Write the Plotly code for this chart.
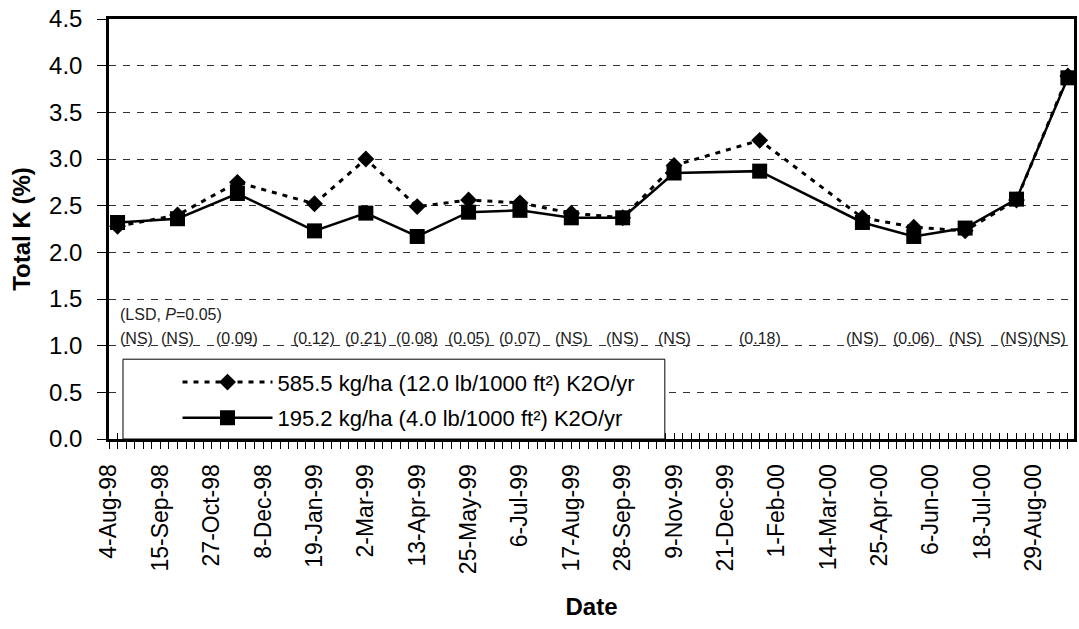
import plotly.graph_objects as go

# Sampling dates and total K (%) in clippings for the two K2O rates
dates = ["1998-08-11", "1998-09-29", "1998-11-17", "1999-01-19", "1999-03-02",
         "1999-04-13", "1999-05-25", "1999-07-06", "1999-08-17", "1999-09-28",
         "1999-11-09", "2000-01-18", "2000-04-11", "2000-05-23", "2000-07-04",
         "2000-08-15", "2000-09-26"]
k_high = [2.28, 2.40, 2.75, 2.52, 3.00, 2.49, 2.56, 2.53, 2.42, 2.37,
          2.93, 3.20, 2.37, 2.27, 2.23, 2.56, 3.89]
k_low = [2.32, 2.36, 2.63, 2.23, 2.42, 2.17, 2.43, 2.45, 2.37, 2.37,
         2.85, 2.87, 2.32, 2.17, 2.26, 2.57, 3.87]
lsd = ["(NS)", "(NS)", "(0.09)", "(0.12)", "(0.21)", "(0.08)", "(0.05)", "(0.07)",
       "(NS)", "(NS)", "(NS)", "(0.18)", "(NS)", "(0.06)", "(NS)", "(NS)", "(NS)"]
name_high = "585.5 kg/ha (12.0 lb/1000 ft²) K2O/yr"
name_low = "195.2 kg/ha (4.0 lb/1000 ft²) K2O/yr"

DAY = 86400000
FONT = "Arial, Liberation Sans, sans-serif"

fig = go.Figure()
fig.add_trace(go.Scatter(
    x=dates, y=k_high, name=name_high, mode="lines+markers", legendgroup="a",
    line=dict(color="black", width=3, dash="5px,6px"),
    marker=dict(symbol="diamond", size=13, color="black"),
))
fig.add_trace(go.Scatter(
    x=dates, y=k_low, name=name_low, mode="lines+markers", legendgroup="b",
    line=dict(color="black", width=2.5),
    marker=dict(symbol="square", size=15, color="black"),
))
# invisible trace on a twin axis that carries the inward half of the cross ticks
fig.add_trace(go.Scatter(x=[dates[0]], y=[None], xaxis="x2", showlegend=False,
                         hoverinfo="skip"))

x_range = ["1998-08-04", "2000-10-01"]

annotations = []
n = len(lsd)
for i, (d, t) in enumerate(zip(dates, lsd)):
    anchor = "left" if i == 0 else ("right" if i == n - 1 else "center")
    annotations.append(dict(x=d, y=1.0, xref="x", yref="y", text=t, showarrow=False,
                            xanchor=anchor, yanchor="bottom", yshift=-3,
                            font=dict(family=FONT, size=16, color="#222")))
annotations.append(dict(x=dates[0], y=1.33, xref="x", yref="y",
                        text="(LSD, <i>P</i>=0.05)", showarrow=False,
                        xanchor="left", yanchor="middle",
                        font=dict(family=FONT, size=16, color="#222")))

fig.update_layout(
    width=1079, height=629,
    margin=dict(l=109, r=2, t=19, b=190),
    paper_bgcolor="white", plot_bgcolor="white",
    font=dict(family=FONT, color="black"),
    showlegend=True,
    legend=dict(x=0.071, y=0.185, xanchor="left", yanchor="top",
                bgcolor="rgba(0,0,0,0)", borderwidth=0,
                font=dict(family=FONT, size=22, color="black"),
                itemwidth=90, traceorder="grouped", tracegroupgap=4),
    xaxis=dict(
        type="date", range=x_range, tick0="1998-08-04", dtick=42 * DAY,
        tickformat="%-d-%b-%y", tickangle=-90,
        tickfont=dict(family=FONT, size=23, color="black"),
        ticks="outside", ticklen=7, tickwidth=1, tickcolor="black",
        minor=dict(dtick=7 * DAY, tick0="1998-08-04", ticks="outside",
                   ticklen=7, tickwidth=1, tickcolor="black"),
        showline=True, linecolor="black", linewidth=3, mirror=True,
        showgrid=False, zeroline=False,
        title=dict(text="<b>Date</b>", font=dict(family=FONT, size=24, color="black"),
                   standoff=26),
        ticklabelstandoff=6,
    ),
    xaxis2=dict(
        type="date", range=x_range, overlaying="x", side="bottom",
        tick0="1998-08-04", dtick=7 * DAY, ticks="inside", ticklen=6,
        tickwidth=1, tickcolor="black", showticklabels=False,
        showgrid=False, zeroline=False, showline=False,
    ),
    yaxis=dict(
        range=[0, 4.5], dtick=0.5, tick0=0, tickformat=".1f",
        tickfont=dict(family=FONT, size=24, color="black"),
        ticks="outside", ticklen=9, tickwidth=1, tickcolor="black",
        showline=True, linecolor="black", linewidth=2.5, mirror=True,
        showgrid=True, gridcolor="#333", gridwidth=1, griddash="7px,7px",
        zeroline=False,
        title=dict(text="<b>Total K (%)</b>", font=dict(family=FONT, size=24, color="black"),
                   standoff=12),
        ticklabelstandoff=10,
    ),
    annotations=annotations,
    shapes=[dict(type="rect", xref="paper", yref="paper",
                 x0=0.0145, x1=0.576, y0=0.0, y1=0.19,
                 fillcolor="white", line=dict(color="black", width=1),
                 layer="above")],
)

fig.write_html("out.html")
